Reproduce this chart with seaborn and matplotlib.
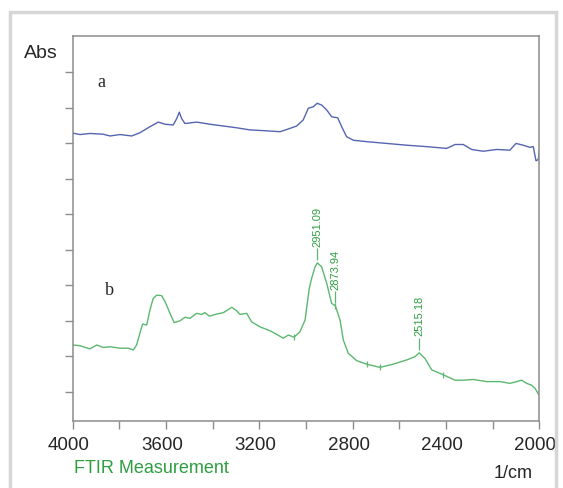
import numpy as np
import pandas as pd
import matplotlib
matplotlib.use("Agg")
import matplotlib.pyplot as plt
import seaborn as sns
from matplotlib.patches import Rectangle
from matplotlib.ticker import MultipleLocator
from matplotlib.transforms import ScaledTranslation

# spectrum a (upper, blue)
wn_a = [4000, 3969, 3926, 3870, 3840, 3797, 3747, 3712, 3669, 3633,
        3604, 3569, 3554, 3543, 3533, 3519, 3469, 3411, 3354, 3297,
        3240, 3183, 3111, 3083, 3040, 3012, 2990, 2969, 2952, 2933,
        2911, 2890, 2864, 2847, 2826, 2797, 2740, 2654, 2568, 2483,
        2397, 2361, 2326, 2290, 2240, 2183, 2126, 2100, 2069, 2040,
        2026, 2014, 2004, 2000]
abs_a = [7.28, 7.24, 7.27, 7.25, 7.20, 7.24, 7.20, 7.29, 7.46, 7.59,
         7.53, 7.51, 7.69, 7.87, 7.69, 7.55, 7.59, 7.53, 7.48, 7.43,
         7.37, 7.35, 7.32, 7.38, 7.48, 7.65, 7.98, 8.02, 8.12, 8.07,
         7.93, 7.74, 7.71, 7.46, 7.18, 7.08, 7.04, 6.99, 6.94, 6.90,
         6.85, 6.96, 6.96, 6.82, 6.77, 6.82, 6.80, 6.99, 6.94, 6.88,
         6.90, 6.50, 6.54, 6.80]

# spectrum b (lower, green)
wn_b = [4000, 3969, 3926, 3897, 3869, 3840, 3797, 3762, 3740, 3726,
        3712, 3700, 3683, 3669, 3655, 3640, 3619, 3604, 3583, 3565,
        3540, 3519, 3497, 3469, 3447, 3433, 3414, 3383, 3354, 3318,
        3297, 3283, 3254, 3233, 3197, 3154, 3126, 3097, 3076, 3051,
        3026, 3004, 2986, 2976, 2961, 2951, 2933, 2911, 2890, 2874,
        2854, 2840, 2819, 2783, 2740, 2683, 2626, 2568, 2533, 2515,
        2490, 2461, 2411, 2361, 2326, 2283, 2226, 2168, 2126, 2097,
        2076, 2054, 2033, 2018, 2004, 2000]
abs_b = [1.32, 1.30, 1.21, 1.32, 1.25, 1.27, 1.23, 1.23, 1.18, 1.32,
         1.65, 1.91, 1.88, 2.30, 2.63, 2.72, 2.71, 2.54, 2.21, 1.95,
         2.00, 2.10, 2.07, 2.21, 2.18, 2.23, 2.13, 2.19, 2.23, 2.38,
         2.28, 2.18, 2.21, 1.97, 1.83, 1.72, 1.62, 1.51, 1.60, 1.54,
         1.69, 2.02, 2.91, 3.19, 3.52, 3.63, 3.52, 3.05, 2.49, 2.42,
         2.02, 1.46, 1.09, 0.88, 0.78, 0.69, 0.78, 0.90, 0.99, 1.10,
         0.94, 0.62, 0.48, 0.33, 0.33, 0.35, 0.29, 0.29, 0.24, 0.29,
         0.33, 0.24, 0.19, 0.10, -0.06, -0.10]

peak_wn = [2951.09, 2873.94, 2515.18]
peak_labels = ["2951.09", "2873.94", "2515.18"]
mark_wn = [3051, 2874, 2740, 2683, 2411]

blue = "#5565b0"
green = "#5cb870"
dark_green = "#2e9e40"
grey = "#8c8c8c"

sns.set_style("white")
plt.rcParams["font.family"] = ["Liberation Sans", "DejaVu Sans"]

fig = plt.figure(figsize=(5.63, 4.88), dpi=100)
ax = fig.add_axes([0.1291, 0.1379, 0.8288, 0.7889])

df_a = pd.DataFrame({"wn": wn_a, "abs": abs_a})
df_b = pd.DataFrame({"wn": wn_b, "abs": abs_b})
sns.lineplot(data=df_a, x="wn", y="abs", ax=ax, color=blue, linewidth=1.0)
sns.lineplot(data=df_b, x="wn", y="abs", ax=ax, color=green, linewidth=1.0)

# small pick marks on spectrum b
xb = np.array(wn_b[::-1], dtype=float)
yb = np.array(abs_b[::-1], dtype=float)
mark_y = np.interp(mark_wn, xb, yb)
ax.plot(mark_wn, mark_y, ls="none", marker="|", ms=5, mew=0.9, color=green)

# peak labels
peak_y = np.interp(peak_wn, xb, yb)
for w, h, lab in zip(peak_wn, peak_y, peak_labels):
    ax.vlines(w, h + 0.08, h + 0.42, color=green, lw=0.9)
    ax.text(w, h + 0.46, lab, rotation=90, ha="center", va="bottom",
            fontsize=8, color=dark_green)

ax.text(3879, 8.71, "a", family="Liberation Serif", fontsize=13,
        ha="center", va="center")
ax.text(3844, 2.84, "b", family="Liberation Serif", fontsize=13,
        ha="center", va="center")

ax.set_xlim(4000, 2000)
ax.set_ylim(-0.81, 10.02)
ax.xaxis.set_major_locator(MultipleLocator(400))
ax.xaxis.set_minor_locator(MultipleLocator(200))
ax.set_yticks(range(10))
ax.set_yticklabels([])
ax.set_xlabel("")
ax.set_ylabel("")
ax.tick_params(axis="both", which="both", direction="out", length=5.5,
               width=1.0, color=grey, labelsize=13.5, pad=6)
ax.tick_params(axis="x", which="both", bottom=True)
ax.tick_params(axis="y", left=True)
for s in ax.spines.values():
    s.set_color(grey)
    s.set_linewidth(1.1)

shift = ScaledTranslation(-4 / 100, 0, fig.dpi_scale_trans)
for lab in ax.get_xticklabels():
    lab.set_transform(lab.get_transform() + shift)

fig.text(40.5 / 563, 1 - 53.5 / 488, "Abs", fontsize=14, ha="center", va="center")
fig.text(74 / 563, 1 - 468.5 / 488, "FTIR Measurement", fontsize=13,
         color=dark_green, ha="left", va="center")
fig.text(533 / 563, 1 - 474 / 488, "1/cm", fontsize=13, ha="right", va="center")

fig.patches.append(Rectangle((10 / 563, -0.02), 546 / 563, 0.9954,
                             transform=fig.transFigure, fill=False,
                             edgecolor="#d6d6d6", linewidth=2.5))

fig.savefig("out.png", dpi=100)
